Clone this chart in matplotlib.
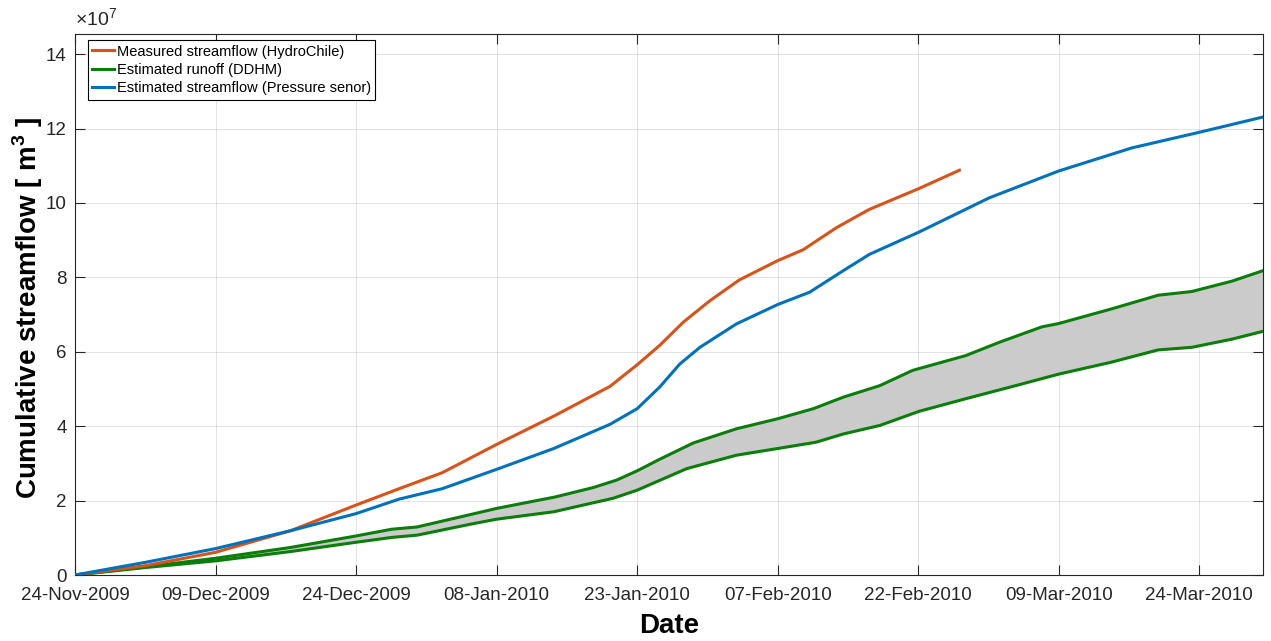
import matplotlib
matplotlib.use("Agg")
import matplotlib.pyplot as plt
import matplotlib.dates as mdates
from matplotlib.ticker import FuncFormatter, MultipleLocator
import numpy as np
from datetime import datetime, timedelta

plt.rcParams['font.family'] = ['Liberation Sans', 'DejaVu Sans']
plt.rcParams['mathtext.fontset'] = 'custom'
plt.rcParams['mathtext.rm'] = 'Liberation Sans'
plt.rcParams['mathtext.bf'] = 'Liberation Sans:bold'

# days after 24-Nov-2009, values in 1e7 m3
start = datetime(2009, 11, 24)

meas_days = [0, 7.5, 15, 23, 30, 34.6, 39.2, 45, 51.1, 57.1, 60, 62.4, 64.9, 67.75,
             70.9, 75, 77.7, 81.3, 84.8, 90.1, 94.4]
meas_vals = [0, 0.25, 0.61, 1.19, 1.88, 2.32, 2.75, 3.51, 4.27, 5.07, 5.65, 6.17, 6.79,
             7.37, 7.93, 8.45, 8.74, 9.34, 9.83, 10.39, 10.88]

press_days = [0, 7.5, 15, 23, 30, 34.6, 39.2, 45, 51.1, 57.1, 60, 62.4, 64.55, 66.7,
              70.6, 75, 78.4, 82, 84.8, 90.1, 97.6, 105, 112.8, 120, 126.8]
press_vals = [0, 0.34, 0.71, 1.19, 1.65, 2.04, 2.32, 2.84, 3.4, 4.05, 4.47, 5.05, 5.67,
              6.12, 6.75, 7.27, 7.6, 8.18, 8.62, 9.22, 10.14, 10.86, 11.48, 11.9, 12.31]

ddhm_hi_days = [0, 7.5, 15, 23, 30, 33.8, 36.5, 42.3, 45, 51.3, 55.3, 57.8, 60, 62.4,
                66, 70.6, 75, 78.8, 82, 85.9, 89.4, 95.1, 98.6, 103.2, 105, 110.6,
                115.6, 119.2, 123.5, 126.8]
ddhm_hi_vals = [0, 0.22, 0.45, 0.74, 1.05, 1.23, 1.29, 1.63, 1.79, 2.1, 2.35, 2.55, 2.8,
                3.11, 3.55, 3.93, 4.2, 4.47, 4.78, 5.09, 5.5, 5.9, 6.25, 6.67, 6.76,
                7.15, 7.52, 7.62, 7.9, 8.18]

ddhm_lo_days = [0, 7.5, 15, 23, 30, 33.8, 36.5, 42.3, 45, 51.1, 57.4, 60, 65.3, 70.6,
                75, 79.1, 82, 85.9, 90.1, 95.1, 100.4, 105, 110.6, 115.6, 119.2, 123.5,
                126.8]
ddhm_lo_vals = [0, 0.2, 0.38, 0.63, 0.88, 1.01, 1.07, 1.37, 1.5, 1.7, 2.06, 2.28, 2.86,
                3.22, 3.4, 3.57, 3.79, 4.02, 4.4, 4.74, 5.09, 5.4, 5.72, 6.05, 6.12,
                6.34, 6.55]

labels = ['Measured streamflow (HydroChile)', 'Estimated runoff (DDHM)',
          'Estimated streamflow (Pressure senor)']


def to_dates(days):
    return [start + timedelta(days=d) for d in days]


def to_m3(vals):
    return np.array(vals) * 1e7


orange = '#D95319'
blue = '#0072BD'
green = '#0a7d0a'
dark = '#262626'

fig = plt.figure(figsize=(12.71, 6.41), dpi=100)
ax = fig.add_axes([75 / 1271, 66 / 641, 1188 / 1271, 541.3 / 641])

# shaded band between the two DDHM curves
band_x = to_dates(ddhm_hi_days) + to_dates(ddhm_lo_days)[::-1]
band_y = np.concatenate([to_m3(ddhm_hi_vals), to_m3(ddhm_lo_vals)[::-1]])
ax.fill(band_x, band_y, color='#cbcbcb', lw=0, zorder=1)

l_green, = ax.plot(to_dates(ddhm_hi_days), to_m3(ddhm_hi_vals), color=green, lw=2.2, zorder=3)
ax.plot(to_dates(ddhm_lo_days), to_m3(ddhm_lo_vals), color=green, lw=2.2, zorder=3)
l_orange, = ax.plot(to_dates(meas_days), to_m3(meas_vals), color=orange, lw=2.2, zorder=4)
l_blue, = ax.plot(to_dates(press_days), to_m3(press_vals), color=blue, lw=2.2, zorder=5)

ax.set_xlim(start, start + timedelta(days=126.8))
ax.set_ylim(0, 1.455e8)

ticks = [start + timedelta(days=15 * i) for i in range(9)]
ax.set_xticks(ticks)
ax.xaxis.set_major_formatter(mdates.DateFormatter('%d-%b-%Y'))

ax.yaxis.set_major_locator(MultipleLocator(2e7))
ax.yaxis.set_major_formatter(FuncFormatter(lambda v, p: '%d' % round(v / 1e7)))
ax.text(0, 1.006, r'$\times$10$^{7}$', transform=ax.transAxes, ha='left', va='bottom',
        fontsize=14, color=dark)

ax.grid(True, color=dark, alpha=0.13, lw=0.7)
ax.set_axisbelow(True)
ax.tick_params(direction='in', length=7, width=0.8, colors=dark, labelsize=13.5,
               top=True, right=True, pad=6)
ax.tick_params(axis='x', pad=9)
for s in ax.spines.values():
    s.set_color(dark)
    s.set_linewidth(0.8)

ax.set_xlabel('Date', fontsize=20, fontweight='bold', labelpad=6)
ax.set_ylabel(r'Cumulative streamflow [ m$^{\mathbf{3}}$ ]', fontsize=20,
              fontweight='bold')
ax.yaxis.set_label_coords(-0.025, 0.493)

leg = ax.legend([l_orange, l_green, l_blue], labels, loc='upper left',
                bbox_to_anchor=(0.011, 0.988), borderaxespad=0, fontsize=10.5,
                fancybox=False, framealpha=1, edgecolor='black', borderpad=0.3,
                labelspacing=0.3, handlelength=1.5, handletextpad=0.15)
leg.get_frame().set_linewidth(0.8)

fig.savefig('out.png', dpi=100)
